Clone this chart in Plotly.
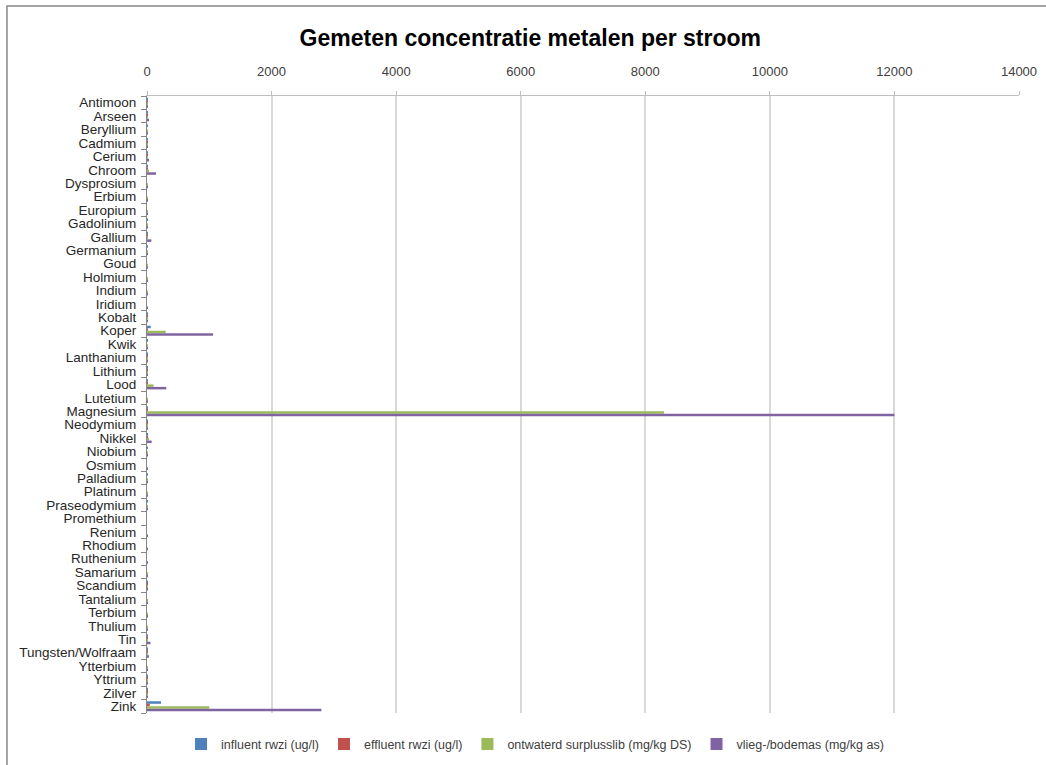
import plotly.graph_objects as go

metals = [
    "Antimoon", "Arseen", "Beryllium", "Cadmium", "Cerium", "Chroom", "Dysprosium",
    "Erbium", "Europium", "Gadolinium", "Gallium", "Germanium", "Goud", "Holmium",
    "Indium", "Iridium", "Kobalt", "Koper", "Kwik", "Lanthanium", "Lithium", "Lood",
    "Lutetium", "Magnesium", "Neodymium", "Nikkel", "Niobium", "Osmium", "Palladium",
    "Platinum", "Praseodymium", "Promethium", "Renium", "Rhodium", "Ruthenium",
    "Samarium", "Scandium", "Tantalium", "Terbium", "Thulium", "Tin",
    "Tungsten/Wolfraam", "Ytterbium", "Yttrium", "Zilver", "Zink",
]

influent = [
    1, 3, 0.1, 0.3, 0.5, 5, 0.05,
    0.03, 0.02, 0.1, 0.5, 0.1, 0.05, 0.01,
    0.01, 0.01, 1, 60, 0.1, 0.5, 5, 10,
    0.01, 10, 0.3, 8, 0.1, 0.01, 0.1,
    0.05, 0.1, 0, 0.01, 0.01, 0.01,
    0.05, 0.2, 0.05, 0.01, 0.01, 2,
    1, 0.02, 0.3, 0.5, 225,
]

effluent = [
    0.5, 2, 0.05, 0.1, 0.2, 2, 0.02,
    0.01, 0.01, 0.05, 0.2, 0.05, 0.02, 0.01,
    0.01, 0.01, 0.5, 12, 0.05, 0.2, 4, 3,
    0.01, 8, 0.1, 5, 0.05, 0.01, 0.05,
    0.02, 0.05, 0, 0.01, 0.01, 0.01,
    0.02, 0.1, 0.02, 0.01, 0.01, 1,
    0.5, 0.01, 0.1, 0.2, 45,
]

surplusslib = [
    3, 10, 0.5, 2, 15, 30, 1,
    0.5, 0.3, 1, 5, 0.5, 0.5, 0.2,
    0.1, 0.05, 8, 300, 1, 8, 5, 105,
    0.1, 8300, 6, 25, 3, 0.05, 0.3,
    0.2, 2, 0, 0.05, 0.05, 0.05,
    1, 2, 0.5, 0.2, 0.1, 15,
    10, 0.5, 5, 10, 1000,
]

bodemas = [
    10, 30, 3, 5, 30, 145, 4,
    3, 2, 4, 70, 3, 5, 1,
    1, 0.5, 15, 1060, 2, 15, 5, 310,
    1, 12000, 15, 75, 10, 0.5, 5,
    3, 4, 0, 0.5, 0.5, 0.5,
    3, 8, 3, 1, 0.5, 55,
    20, 2, 10, 8, 2800,
]

series = [
    ("influent rwzi (ug/l)", influent, "#4F81BD"),
    ("effluent rwzi (ug/l)", effluent, "#C0504D"),
    ("ontwaterd surplusslib (mg/kg DS)", surplusslib, "#9BBB59"),
    ("vlieg-/bodemas (mg/kg as)", bodemas, "#8064A2"),
]

FONT = "Liberation Sans, Arial, sans-serif"

fig = go.Figure()
for name, vals, color in series:
    fig.add_trace(go.Bar(
        y=metals, x=vals, name=name, orientation="h",
        marker=dict(color=color, line=dict(width=0)),
    ))

fig.update_layout(
    width=1046, height=765,
    margin=dict(l=147, r=27, t=96, b=52, autoexpand=False),
    paper_bgcolor="white", plot_bgcolor="white",
    barmode="group", bargap=0.25, bargroupgap=0,
    font=dict(family=FONT, size=13, color="#404040"),
    title=dict(
        text="<b>Gemeten concentratie metalen per stroom</b>",
        x=0.507, xanchor="center", y=0.95, yanchor="middle",
        font=dict(family=FONT, size=23, color="black"),
    ),
    showlegend=True,
    legend=dict(
        orientation="h", x=0.445, xanchor="center",
        yref="container", y=0.027, yanchor="middle",
        font=dict(family=FONT, size=12.5, color="#404040"),
        traceorder="normal", itemwidth=30,
    ),
    xaxis=dict(
        side="top", range=[0, 14000], dtick=2000, tickformat="d",
        showgrid=True, gridcolor="#D9D9D9", gridwidth=2,
        showline=True, linecolor="#BFBFBF", linewidth=1,
        ticks="outside", ticklen=4, tickcolor="#BFBFBF",
        ticklabelstandoff=10,
        zeroline=False, tickfont=dict(size=13, color="#404040"),
        automargin=False,
    ),
    yaxis=dict(
        type="category", categoryorder="array", categoryarray=metals,
        tickmode="array", tickvals=metals, ticktext=metals,
        autorange="reversed", tickson="boundaries",
        showline=True, linecolor="#868686", linewidth=1,
        ticks="outside", ticklen=5, tickcolor="#868686",
        ticklabelstandoff=7,
        showgrid=False, tickfont=dict(size=13.5, color="#262626"),
        automargin=False,
    ),
    shapes=[
        dict(type="rect", xref="paper", yref="paper",
             x0=-0.1606, x1=1.05, y0=-0.2, y1=1.1459,
             line=dict(color="#868686", width=1.5), fillcolor="rgba(0,0,0,0)"),
    ],
)

fig.write_html("out.html")
